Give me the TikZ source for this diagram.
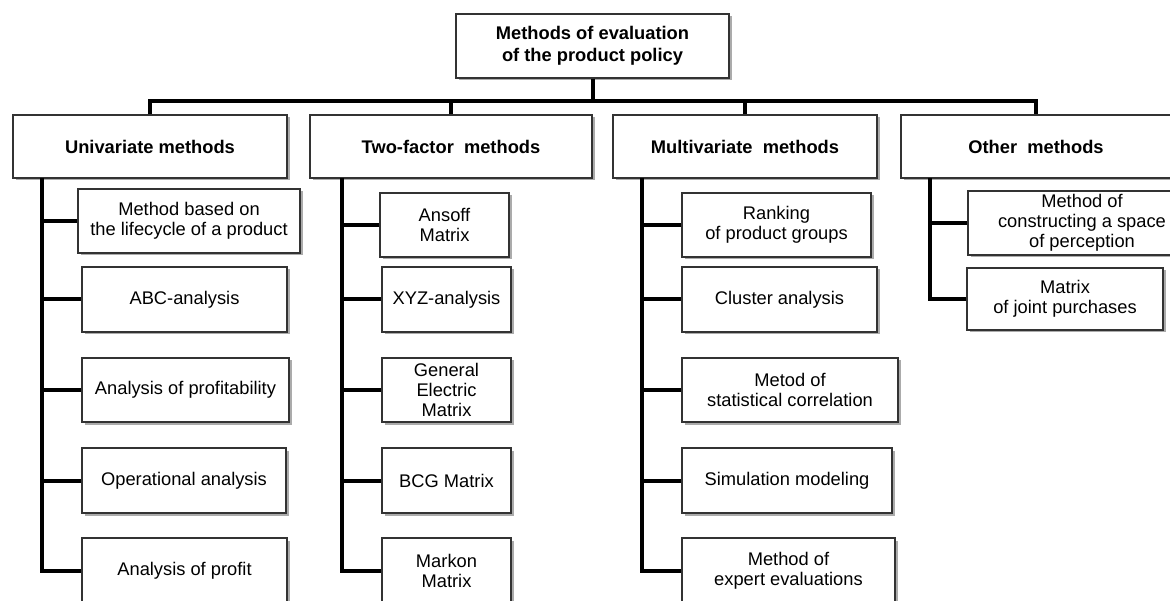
\documentclass[tikz,border=0pt]{standalone}
\usepackage{fontspec}
\setmainfont{Liberation Sans}
\usetikzlibrary{shadows}
\tikzset{
  basebox/.style={draw=black!80, line width=1.2pt, fill=white, align=center, inner sep=0pt,
    drop shadow={shadow xshift=2.5pt, shadow yshift=-2.5pt, fill=black!60, opacity=0.55}},
  headbox/.style={basebox, font=\bfseries\fontsize{18.3}{22}\selectfont},
  itembox/.style={basebox, font=\fontsize{18.3}{20}\selectfont},
  conn/.style={draw=black, line width=4pt},
}
\begin{document}
\begin{tikzpicture}[x=1pt,y=-1pt]
\fill[white] (0,0) rectangle (1170,601);
\useasboundingbox (0,0) rectangle (1170,601);

% top
\node[headbox, minimum width=273pt, minimum height=64pt] (top) at (592.5,46) {Methods of evaluation\\of the product policy};

% level 1
\node[headbox, minimum width=274pt, minimum height=63pt] (U) at (150,146.5) {Univariate methods};
\node[headbox, minimum width=282pt, minimum height=63pt] (T) at (451,146.5) {Two-factor~ methods};
\node[headbox, minimum width=264pt, minimum height=63pt] (M) at (745,146.5) {Multivariate~ methods};
\node[headbox, minimum width=270pt, minimum height=63pt] (O) at (1036,146.5) {Other~ methods};

% univariate children
\node[itembox, minimum width=222pt, minimum height=64pt] (u1) at (189,221) {Method based on\\the lifecycle of a product};
\node[itembox, minimum width=205pt, minimum height=65pt] (u2) at (184.5,299.5) {ABC-analysis};
\node[itembox, minimum width=207pt, minimum height=64pt] (u3) at (185.5,390) {Analysis of profitability};
\node[itembox, minimum width=204pt, minimum height=65pt] (u4) at (184,480.5) {Operational analysis};
\node[itembox, minimum width=205pt, minimum height=65pt] (u5) at (184.5,570.5) {Analysis of profit};

% two-factor children
\node[itembox, minimum width=129pt, minimum height=64pt] (t1) at (444.5,225) {Ansoff\\Matrix};
\node[itembox, minimum width=129pt, minimum height=65pt] (t2) at (446.5,299.5) {XYZ-analysis};
\node[itembox, minimum width=129pt, minimum height=64pt] (t3) at (446.5,390) {General\\Electric\\Matrix};
\node[itembox, minimum width=129pt, minimum height=65pt] (t4) at (446.5,480.5) {BCG Matrix};
\node[itembox, minimum width=129pt, minimum height=65pt] (t5) at (446.5,570.5) {Markon\\Matrix};

% multivariate children
\node[itembox, minimum width=189pt, minimum height=64pt] (m1) at (776.5,225) {Ranking\\of product groups};
\node[itembox, minimum width=195pt, minimum height=65pt] (m2) at (779.5,299.5) {Cluster analysis};
\node[itembox, minimum width=216pt, minimum height=64pt] (m3) at (790,390) {Metod of\\statistical correlation};
\node[itembox, minimum width=210pt, minimum height=65pt] (m4) at (787,480.5) {Simulation modeling};
\node[itembox, minimum width=213pt, minimum height=65pt] (m5) at (788.5,570.5) {Method of\\expert evaluations};

% other children
\node[itembox, minimum width=228pt, minimum height=64pt] (o1) at (1082,223) {Method of\\constructing a space\\of perception};
\node[itembox, minimum width=196pt, minimum height=62pt] (o2) at (1065,299) {Matrix\\of joint purchases};

% bus
\draw[conn] (U.north) -- ++(0,-13) -| (O.north);
\draw[conn] (T.north) -- ++(0,-13);
\draw[conn] (M.north) -- ++(0,-13);
\draw[conn] (top.south) -- ++(0,24);

% trunks
\coordinate (ua) at (42,178);
\coordinate (ta) at (342,178);
\coordinate (ma) at (642,178);
\coordinate (oa) at (930,178);
\draw[conn] (ua) |- (u5.west);
\draw[conn] (ta) |- (t5.west);
\draw[conn] (ma) |- (m5.west);
\draw[conn] (oa) |- (o2.west);
\foreach \i in {1,2,3,4} {
  \draw[conn] (u\i.west) -- (u\i.west -| ua);
  \draw[conn] (t\i.west) -- (t\i.west -| ta);
  \draw[conn] (m\i.west) -- (m\i.west -| ma);
}
\draw[conn] (o1.west) -- (o1.west -| oa);
\end{tikzpicture}
\end{document}
